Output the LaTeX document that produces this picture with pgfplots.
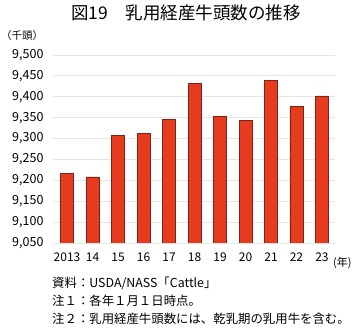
\documentclass[border=0pt]{standalone}
\usepackage{pgfplots}
\pgfplotsset{compat=1.18}
\usepackage{fontspec}
\setmainfont{Noto Sans CJK JP}
\definecolor{barred}{HTML}{E63B1C}
\definecolor{baredge}{HTML}{7A2418}
\begin{document}
\begin{tikzpicture}
\useasboundingbox (0pt,0pt) rectangle (360pt,-328pt);
\node at (186pt,-13pt) {\fontsize{17.5}{19}\selectfont 図19　乳用経産牛頭数の推移};
\node[anchor=west,inner sep=0] at (1pt,-36pt) {\fontsize{10.5}{12}\selectfont （千頭）};
\begin{axis}[
  at={(53pt,-243pt)}, anchor=south west, scale only axis,
  width=282pt, height=188pt,
  xmin=-0.55, xmax=10.51, ymin=9050, ymax=9500,
  ytick={9050,9100,...,9500},
  axis line style={draw=none},
  major tick length=0,
  ymajorgrids, grid style={black!10, line width=0.8pt},
  xtick=data,
  xticklabels={2013,14,15,16,17,18,19,20,21,22,23},
  /pgf/number format/1000 sep={,},
  /pgf/number format/assume math mode=true,
  yticklabel style={font=\fontsize{12.5}{14}\selectfont, anchor=east, xshift=-6pt},
  xticklabel style={font=\fontsize{12}{14}\selectfont, anchor=north, yshift=-6pt},
  ybar, bar width=13pt,
]
\addplot[fill=barred, draw=baredge, line width=0.7pt] coordinates {
(0,9217) (1,9208) (2,9307) (3,9312) (4,9346) (5,9432) (6,9353) (7,9343) (8,9440) (9,9376) (10,9402)
};
\end{axis}
\node[anchor=west,inner sep=0] at (333pt,-263pt) {\fontsize{11}{12}\selectfont (年)};
\node[anchor=west,inner sep=0] at (52pt,-283pt) {\fontsize{12.4}{14}\selectfont 資料：USDA/NASS「Cattle」};
\node[anchor=west,inner sep=0] at (52pt,-301pt) {\fontsize{12.4}{14}\selectfont 注１：各年１月１日時点。};
\node[anchor=west,inner sep=0] at (52pt,-319pt) {\fontsize{12.4}{14}\selectfont 注２：乳用経産牛頭数には、乾乳期の乳用牛を含む。};
\end{tikzpicture}
\end{document}
